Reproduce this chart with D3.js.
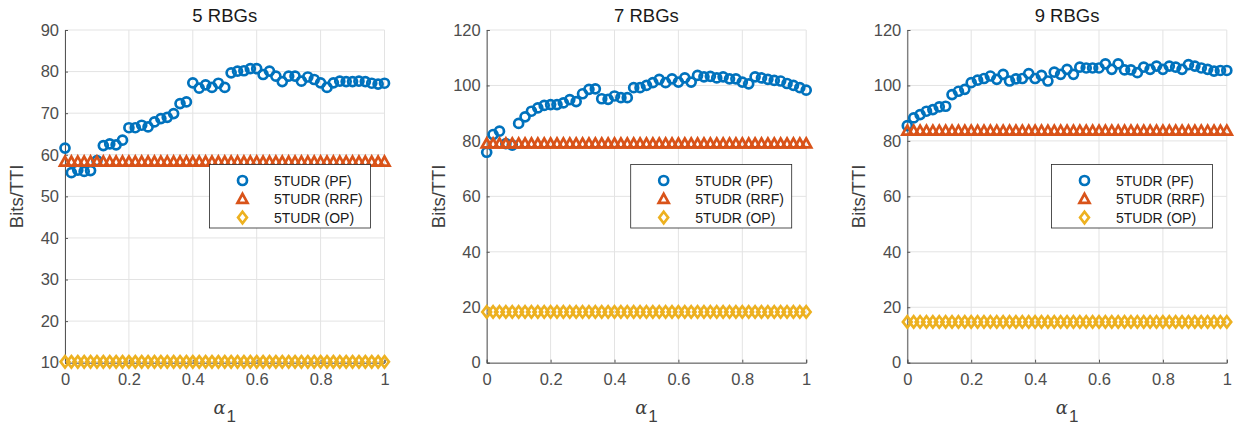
<!DOCTYPE html>
<html>
<head>
  <meta charset="utf-8">
  <title>Bits/TTI vs alpha1</title>
  <script src="https://d3js.org/d3.v7.min.js"></script>
  <style>
    body { margin: 0; background: #fff; }
    text { font-family: "Liberation Sans", Arial, Helvetica, sans-serif; }
  </style>
</head>
<body>
<div id="chart"></div>
<script>
// alpha_1 sweep, 0 to 1 step 0.02
var alpha = d3.range(51).map(function(i) { return +(i * 0.02).toFixed(2); });

var titles = ["5 RBGs", "7 RBGs", "9 RBGs"];
var seriesNames = ["5TUDR (PF)", "5TUDR (RRF)", "5TUDR (OP)"];

var pf5 = [61.6,55.7,56.3,56.0,56.2,58.6,62.2,62.6,62.4,63.5,66.5,66.5,67.1,66.7,67.9,68.7,69.0,69.9,72.3,72.7,
  77.3,76.0,76.8,76.2,77.2,76.2,79.7,80.1,80.2,80.7,80.7,79.3,80.1,78.9,77.6,78.9,78.9,77.7,78.7,78.1,
  77.3,76.2,77.3,77.7,77.6,77.6,77.7,77.6,77.2,77.0,77.2];
var pf7 = [75.9,82.3,83.5,79.0,78.5,86.3,88.7,90.7,91.9,92.8,93.1,93.1,93.7,94.9,94.2,97.0,98.6,98.8,95.2,95.0,
  96.2,95.6,95.6,99.2,99.2,100.0,101.0,102.2,101.0,102.4,101.2,102.7,101.2,103.6,103.1,103.3,102.7,103.1,102.4,102.4,
  101.2,100.6,103.1,102.7,102.2,101.8,101.6,100.7,100.0,99.2,98.3];
var pf9 = [85.5,88.3,89.5,90.7,91.3,92.3,92.5,96.7,97.9,98.6,101.0,101.9,102.5,103.4,102.2,104.0,101.6,102.4,102.5,104.3,
  102.5,103.6,101.6,104.8,104.0,105.8,104.0,106.6,106.3,106.3,106.3,107.8,105.8,107.8,105.6,105.6,104.6,106.6,105.8,107.0,
  105.8,107.0,106.6,105.8,107.5,107.0,106.3,105.8,105.2,105.4,105.4];

// constant baselines per panel
var rrfLevel = [58.3, 79.0, 83.6];
var opLevel = [10.2, 18.3, 14.7];

var yDomains = [[10, 90], [0, 120], [0, 120]];
var yTicks = [d3.range(10, 91, 10), d3.range(0, 121, 20), d3.range(0, 121, 20)];
var xTicks = [0, 0.2, 0.4, 0.6, 0.8, 1];

var colors = ["#0072BD", "#D95319", "#EDB120"];

var W = 1235, H = 435;
var panelLeft = [65, 486.7, 907.3];
var plotW = 319.5, plotTop = 30, plotBottom = 362.7;

var svg = d3.select("#chart").append("svg")
  .attr("width", W).attr("height", H);

// custom marker shapes (MATLAB-like ^ and d)
var triangle = { draw: function(ctx, size) {
  ctx.moveTo(0, -5.2); ctx.lineTo(5, 3.8); ctx.lineTo(-5, 3.8); ctx.closePath();
}};
var diamond = { draw: function(ctx, size) {
  ctx.moveTo(0, -5.7); ctx.lineTo(4.4, 0); ctx.lineTo(0, 5.7); ctx.lineTo(-4.4, 0); ctx.closePath();
}};
var triPath = d3.symbol().type(triangle)();
var diaPath = d3.symbol().type(diamond)();
var mw = 2.7, cr = 4.5;

var pfData = [pf5, pf7, pf9];
var legendLeft = [209.5, 630.7, 1051.5];

for (var p = 0; p < 3; p++) {
  var x = d3.scaleLinear().domain([0, 1]).range([panelLeft[p], panelLeft[p] + plotW]);
  var y = d3.scaleLinear().domain(yDomains[p]).range([plotBottom, plotTop]);
  var g = svg.append("g");

  // grid
  g.selectAll(".gx").data(xTicks).enter().append("line")
    .attr("x1", function(d) { return x(d); }).attr("x2", function(d) { return x(d); })
    .attr("y1", plotTop).attr("y2", plotBottom)
    .attr("stroke", "#e3e3e3").attr("stroke-width", 1);
  g.selectAll(".gy").data(yTicks[p]).enter().append("line")
    .attr("x1", x(0)).attr("x2", x(1))
    .attr("y1", function(d) { return y(d); }).attr("y2", function(d) { return y(d); })
    .attr("stroke", "#e3e3e3").attr("stroke-width", 1);

  // axes
  var yAxis = d3.axisLeft(y).tickValues(yTicks[p]).tickSize(-3).tickPadding(6);
  var ya = g.append("g").attr("transform", "translate(" + x(0) + ",0)").call(yAxis);
  var xAxis = d3.axisBottom(x).tickValues(xTicks).tickSize(-3).tickPadding(7)
    .tickFormat(function(d) { return d3.format("")(d); });
  var xa = g.append("g").attr("transform", "translate(0," + plotBottom + ")").call(xAxis);
  [ya, xa].forEach(function(a) {
    a.select(".domain").attr("stroke", "#555").attr("stroke-width", 1);
    a.selectAll(".tick line").attr("stroke", "#555");
    a.selectAll("text").attr("fill", "#4d4d4d").style("font-size", "16.5px")
      .style("font-family", "'Liberation Sans', Arial, sans-serif");
  });
  xa.selectAll(".tick text").attr("dy", "0.9em");

  // title
  g.append("text").attr("x", (x(0) + x(1)) / 2).attr("y", 22)
    .attr("text-anchor", "middle").attr("fill", "#1a1a1a")
    .style("font-size", "18.5px").text(titles[p]);

  // y label
  g.append("text")
    .attr("transform", "translate(" + (x(0) - 42) + "," + ((plotTop + plotBottom) / 2) + ") rotate(-90)")
    .attr("text-anchor", "middle").attr("fill", "#404040")
    .style("font-size", "18.5px").text("Bits/TTI");

  // x label: alpha with subscript 1
  var xl = g.append("text").attr("x", (x(0) + x(1)) / 2).attr("y", 414)
    .attr("text-anchor", "middle").attr("fill", "#404040");
  xl.append("tspan").style("font-family", "'DejaVu Serif', 'Liberation Serif', serif")
    .style("font-style", "italic").style("font-size", "18px").text("α");
  xl.append("tspan").attr("dy", 8).attr("dx", 1).style("font-size", "17px").text("1");

  // PF circles
  g.selectAll(".pf").data(pfData[p]).enter().append("circle")
    .attr("cx", function(d, i) { return x(alpha[i]); })
    .attr("cy", function(d) { return y(d); })
    .attr("r", cr)
    .attr("fill", "none").attr("stroke", colors[0]).attr("stroke-width", mw);

  // RRF triangles
  var lv = rrfLevel[p];
  g.selectAll(".rrf").data(alpha).enter().append("path")
    .attr("d", triPath)
    .attr("transform", function(d) { return "translate(" + x(d) + "," + y(lv) + ")"; })
    .attr("fill", "none").attr("stroke", colors[1]).attr("stroke-width", mw);

  // OP diamonds
  var lo = opLevel[p];
  g.selectAll(".op").data(alpha).enter().append("path")
    .attr("d", diaPath)
    .attr("transform", function(d) { return "translate(" + x(d) + "," + y(lo) + ")"; })
    .attr("fill", "none").attr("stroke", colors[2]).attr("stroke-width", mw);

  // legend
  var lg = g.append("g").attr("transform", "translate(" + legendLeft[p] + ",164.5)");
  lg.append("rect").attr("width", 161).attr("height", 63.5)
    .attr("fill", "#fff").attr("stroke", "#262626").attr("stroke-width", 0.8);
  var rows = [16, 34.5, 53];
  seriesNames.forEach(function(name, k) {
    var cy = rows[k], mx = 33;
    if (k === 0) {
      lg.append("circle").attr("cx", mx).attr("cy", cy).attr("r", cr)
        .attr("fill", "none").attr("stroke", colors[0]).attr("stroke-width", mw);
    } else {
      lg.append("path").attr("d", k === 1 ? triPath : diaPath)
        .attr("transform", "translate(" + mx + "," + cy + ")")
        .attr("fill", "none").attr("stroke", colors[k]).attr("stroke-width", mw);
    }
    lg.append("text").attr("x", 64.5).attr("y", cy).attr("dy", "0.36em")
      .attr("fill", "#1a1a1a").style("font-size", "14px").text(name);
  });
}
</script>
</body>
</html>
